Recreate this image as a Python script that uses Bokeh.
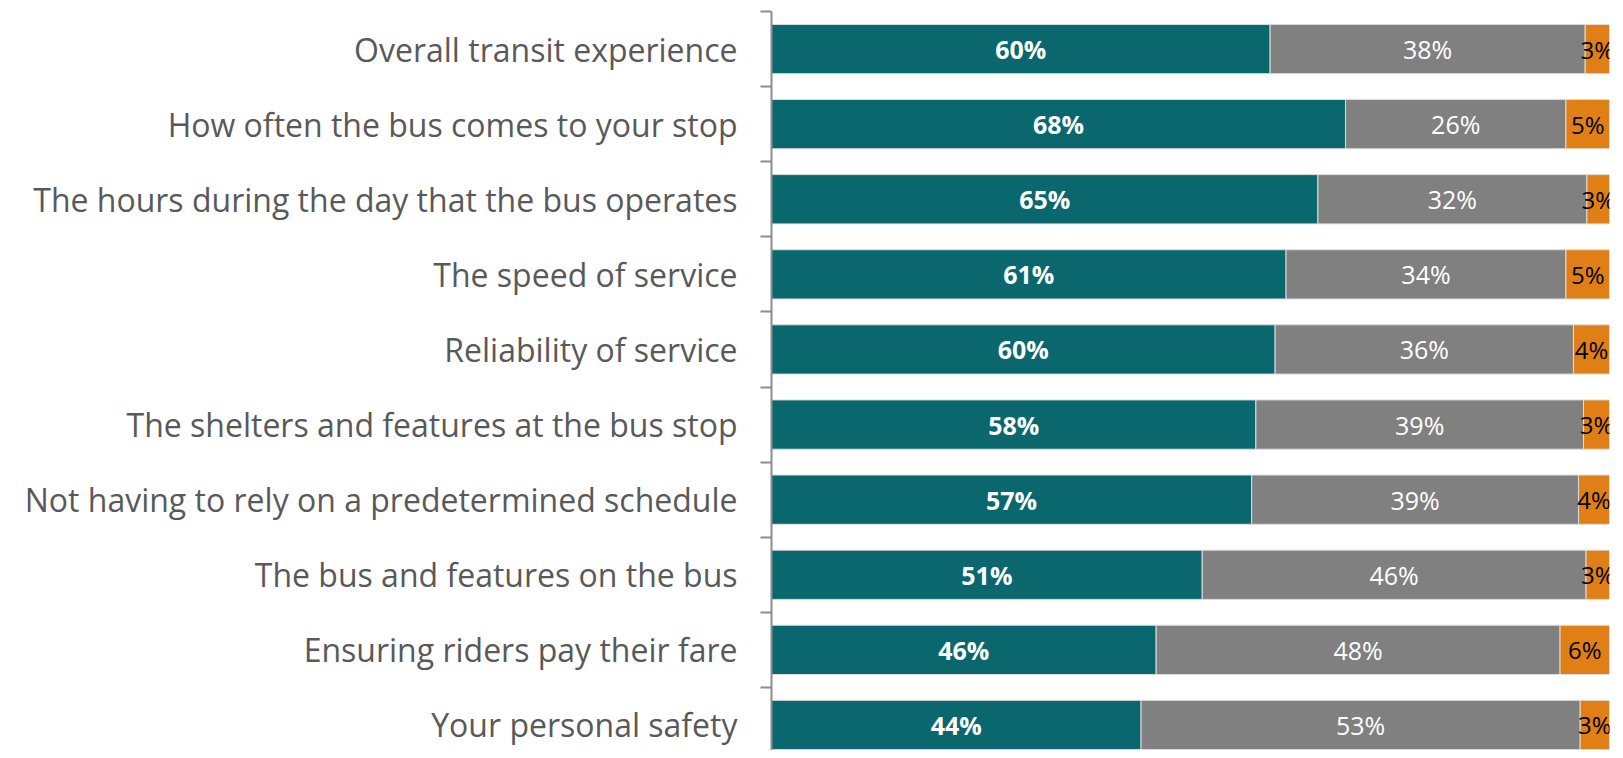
from bokeh.plotting import figure
from bokeh.models import Range1d, FixedTicker, ColumnDataSource
from bokeh.core.properties import value
from bokeh.embed import file_html
from bokeh.resources import INLINE
import numpy as np

categories = [
    "Overall transit experience",
    "How often the bus comes to your stop",
    "The hours during the day that the bus operates",
    "The speed of service",
    "Reliability of service",
    "The shelters and features at the bus stop",
    "Not having to rely on a predetermined schedule",
    "The bus and features on the bus",
    "Ensuring riders pay their fare",
    "Your personal safety",
]
satisfied = [59.5, 68.5, 65.2, 61.4, 60.1, 57.8, 57.3, 51.4, 45.9, 44.1]
neutral = [37.6, 26.3, 32.1, 33.4, 35.6, 39.1, 39.0, 45.8, 48.2, 52.4]
dissatisfied = [2.9, 5.2, 2.7, 5.2, 4.3, 3.1, 3.7, 2.8, 5.9, 3.5]
satisfied_labels = ["60%", "68%", "65%", "61%", "60%", "58%", "57%", "51%", "46%", "44%"]
neutral_labels = ["38%", "26%", "32%", "34%", "36%", "39%", "39%", "46%", "48%", "53%"]
dissatisfied_labels = ["3%", "5%", "3%", "5%", "4%", "3%", "4%", "3%", "6%", "3%"]

TEAL = "#0A676E"
GREY = "#808080"
ORANGE = "#E07F16"

n = len(categories)
y = np.arange(n - 1, -1, -1, dtype=float)
s = np.array(satisfied)
nu = np.array(neutral)
d = np.array(dissatisfied)

p = figure(width=1615, height=750, output_backend="svg", toolbar_location=None,
           x_range=Range1d(0, 100), y_range=Range1d(-0.34, n - 0.5),
           min_border_left=771, min_border_right=6, min_border_top=11, min_border_bottom=0)

src = ColumnDataSource(dict(
    y=y, s0=np.zeros(n), s1=s, n1=s + nu, d1=s + nu + d,
    sc=s / 2, nc=s + nu / 2, dc=s + nu + d / 2,
    sl=satisfied_labels, nl=neutral_labels, dl=dissatisfied_labels,
))

bh = 0.656
p.hbar(y="y", left="s0", right="s1", height=bh, source=src, fill_color=TEAL,
       line_color="#DDDDDD", line_width=1)
p.hbar(y="y", left="s1", right="n1", height=bh, source=src, fill_color=GREY,
       line_color="#DDDDDD", line_width=1)
p.hbar(y="y", left="n1", right="d1", height=bh, source=src, fill_color=ORANGE,
       line_color="#DDDDDD", line_width=1)

p.text(x="sc", y="y", text="sl", source=src, text_color="white",
       text_font=value("Open Sans"), text_font_size="25px", text_font_style="bold",
       text_align="center", text_baseline="middle")
p.text(x="nc", y="y", text="nl", source=src, text_color="white",
       text_font=value("Open Sans"), text_font_size="25px",
       text_align="center", text_baseline="middle")
p.text(x="dc", y="y", text="dl", source=src, text_color="black",
       text_font=value("Open Sans"), text_font_size="24px",
       text_align="center", text_baseline="middle")

p.xaxis.visible = False
p.xgrid.visible = False
p.ygrid.visible = False
p.outline_line_color = None

ax = p.yaxis[0]
ax.ticker = FixedTicker(ticks=list(y), minor_ticks=[k + 0.5 for k in range(-1, n)])
ax.major_label_overrides = {float(yy): c for yy, c in zip(y, categories)}
ax.major_tick_line_color = None
ax.major_tick_out = 0
ax.major_tick_in = 0
ax.minor_tick_out = 11
ax.minor_tick_in = 0
ax.minor_tick_line_color = "#8C8C8C"
ax.minor_tick_line_width = 2
ax.axis_line_color = "#8C8C8C"
ax.axis_line_width = 2
ax.major_label_text_font = "Open Sans"
ax.major_label_text_font_size = "32px"
ax.major_label_text_color = "#595959"
ax.major_label_standoff = 23

open("out.html", "w").write(file_html(p, INLINE))
